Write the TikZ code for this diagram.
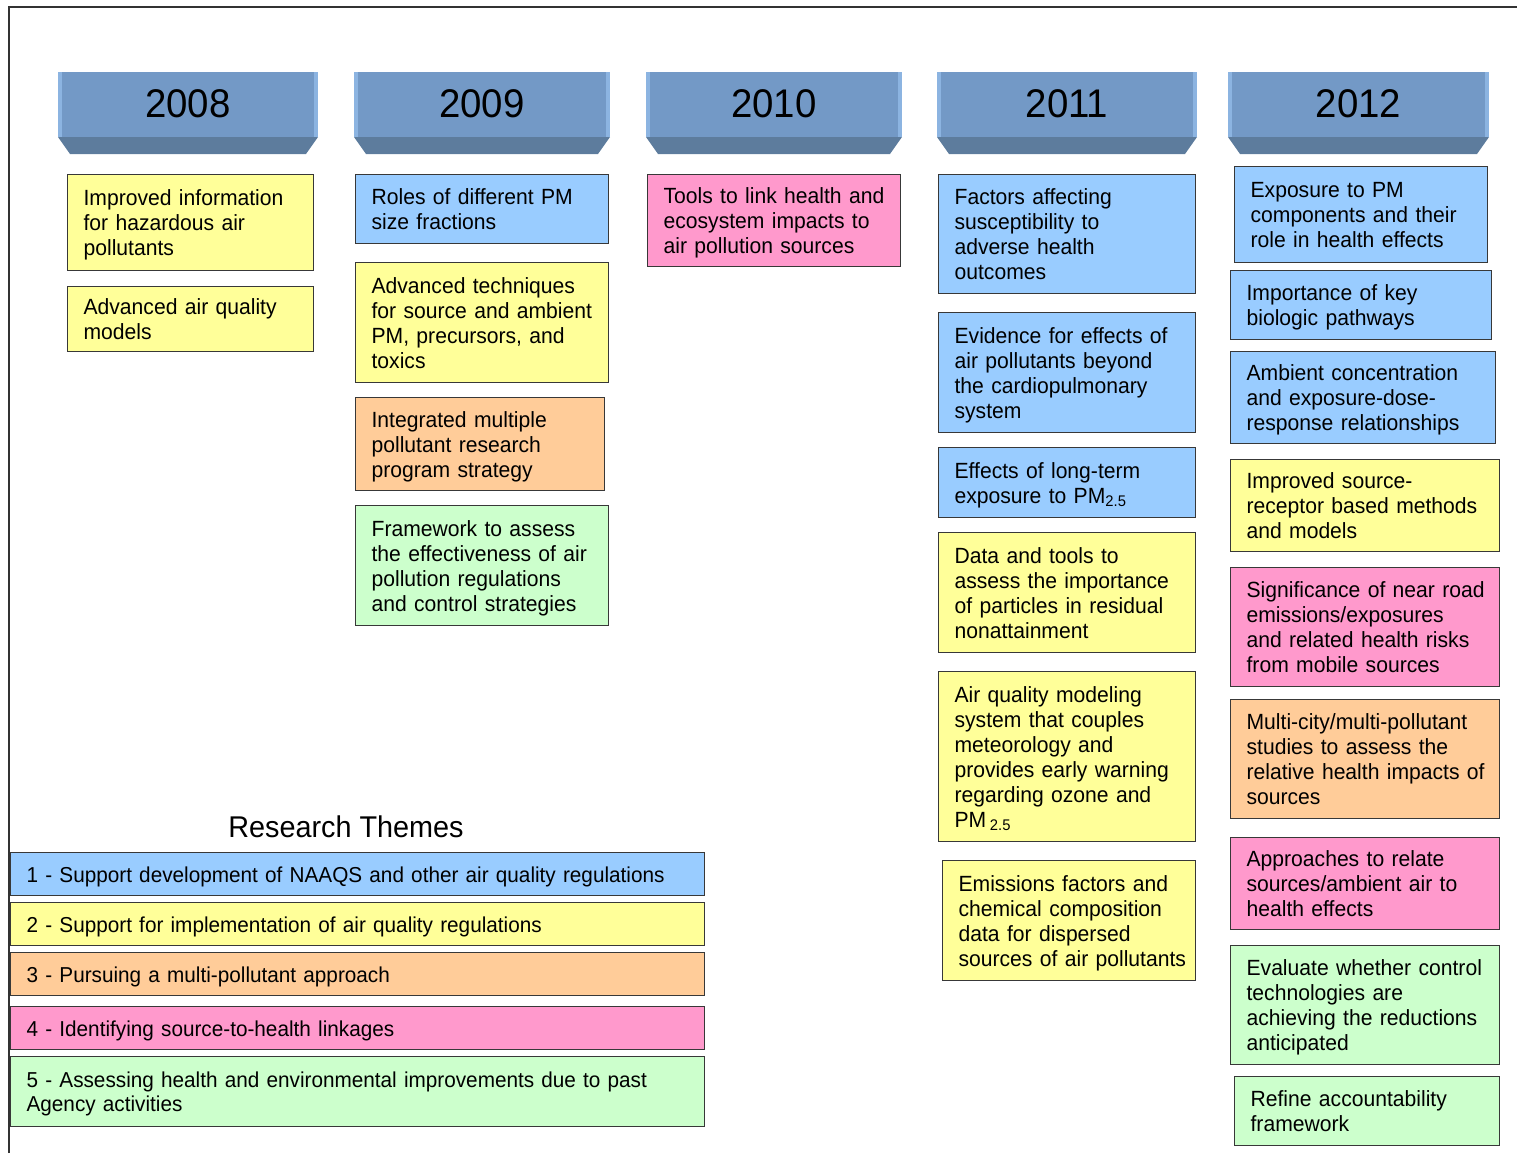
\documentclass[tikz,border=0pt]{standalone}
\usepackage{fontspec}
\setmainfont{Liberation Sans}[FakeStretch=0.96]
\usepackage{tikz}
\usetikzlibrary{calc}

\definecolor{tblue}{HTML}{99CCFF}
\definecolor{tyellow}{HTML}{FFFF99}
\definecolor{torange}{HTML}{FFCC99}
\definecolor{tpink}{HTML}{FF99CC}
\definecolor{tgreen}{HTML}{CCFFCC}
\definecolor{hdface}{HTML}{7399C6}
\definecolor{hdedge}{HTML}{8CB4E1}
\definecolor{hdfoot}{HTML}{5D7C9D}

\newcommand{\cardtext}[1]{\begin{tabular}{@{}l@{}}\rule{0pt}{11.9pt}#1\end{tabular}}

\tikzset{
  card/.style={draw=black!78, line width=0.6pt, anchor=north west, align=left,
    inner xsep=8pt, inner ysep=0pt, font=\fontsize{11}{12.5}\selectfont},
  theme1/.style={card, fill=tblue},
  theme2/.style={card, fill=tyellow},
  theme3/.style={card, fill=torange},
  theme4/.style={card, fill=tpink},
  theme5/.style={card, fill=tgreen},
  legend/.style={text width=331pt, font=\fontsize{10.8}{12}\selectfont},
  year/.style={anchor=base, font=\fontsize{20}{22}\selectfont},
}

\begin{document}
\begin{tikzpicture}[x=0.5pt, y=-0.5pt]
    \useasboundingbox (0,0) rectangle (1517,1153);
    \draw[black!80, line width=0.8pt] (9,1153) -- (9,7) -- (1517,7);
    % year headers
    \foreach \yr/\xl/\xr in {2008/58/318, 2009/354/610, 2010/646/902, 2011/937/1197, 2012/1228/1489} {
      \fill[hdface] (\xl,72) rectangle (\xr,137);
      \fill[hdedge] (\xl,72) rectangle ({\xl+4},137);
      \fill[hdedge] ({\xr-4},72) rectangle (\xr,137);
      \fill[hdfoot] (\xl,137) -- (\xr,137) -- ({\xr-12},154) -- ({\xl+12},154) -- cycle;
      \node[year] (y\yr) at ({(\xl+\xr)/2},117) {\yr};
    }
    % 2008
    \node[theme2, text width=107pt, minimum height=48pt] (a1) at (67,174) {\cardtext{Improved information\\for hazardous air\\pollutants}};
    \node[theme2, text width=107pt, minimum height=32.5pt] (a2) at (67,286) {\cardtext{Advanced air quality\\models}};
    % 2009
    \node[theme1, text width=110.5pt, minimum height=34.5pt] (b1) at (355,174) {\cardtext{Roles of different PM\\size fractions}};
    \node[theme2, text width=110.5pt, minimum height=60pt] (b2) at (355,262) {\cardtext{Advanced techniques\\for source and ambient\\PM, precursors, and\\toxics}};
    \node[theme3, text width=108.5pt, minimum height=46.5pt] (b3) at (355,397) {\cardtext{Integrated multiple\\pollutant research\\program strategy}};
    \node[theme5, text width=110.5pt, minimum height=60pt] (b4) at (355,505) {\cardtext{Framework to assess\\the effectiveness of air\\pollution regulations\\and control strategies}};
    % 2010
    \node[theme4, text width=110.5pt, minimum height=46pt] (c1) at (647,174) {\cardtext{Tools to link health and\\ecosystem impacts to\\air pollution sources}};
    % 2011
    \node[theme1, text width=112.5pt, minimum height=59.5pt] (d1) at (938,174) {\cardtext{Factors affecting\\susceptibility to\\adverse health\\outcomes}};
    \node[theme1, text width=112.5pt, minimum height=60pt] (d2) at (938,312) {\cardtext{Evidence for effects of\\air pollutants beyond\\the cardiopulmonary\\system}};
    \node[theme1, text width=112.5pt, minimum height=35pt] (d3) at (938,447) {\cardtext{Effects of long-term\\exposure to PM\textsubscript{2.5}}};
    \node[theme2, text width=112.5pt, minimum height=60pt] (d4) at (938,532) {\cardtext{Data and tools to\\assess the importance\\of particles in residual\\nonattainment}};
    \node[theme2, text width=112.5pt, minimum height=85pt] (d5) at (938,671) {\cardtext{Air quality modeling\\system that couples\\meteorology and\\provides early warning\\regarding ozone and\\PM\,\textsubscript{2.5}}};
    \node[theme2, text width=110.5pt, minimum height=60pt] (d6) at (942,860) {\cardtext{Emissions factors and\\chemical composition\\data for dispersed\\sources of air pollutants}};
    % 2012
    \node[theme1, text width=110.5pt, minimum height=48pt] (e1) at (1234,166) {\cardtext{Exposure to PM\\components and their\\role in health effects}};
    \node[theme1, text width=114.5pt, minimum height=34.5pt] (e2) at (1230,270) {\cardtext{Importance of key\\biologic pathways}};
    \node[theme1, text width=116.5pt, minimum height=46pt] (e3) at (1230,351) {\cardtext{Ambient concentration\\and exposure-dose-\\response relationships}};
    \node[theme2, text width=118.5pt, minimum height=46pt] (e4) at (1230,459) {\cardtext{Improved source-\\receptor based methods\\and models}};
    \node[theme4, text width=118.5pt, minimum height=59.5pt] (e5) at (1230,567) {\cardtext{Significance of near road\\emissions/exposures\\and related health risks\\from mobile sources}};
    \node[theme3, text width=118.5pt, minimum height=59.5pt] (e6) at (1230,699) {\cardtext{Multi-city/multi-pollutant\\studies to assess the\\relative health impacts of\\sources}};
    \node[theme4, text width=118.5pt, minimum height=46pt] (e7) at (1230,837) {\cardtext{Approaches to relate\\sources/ambient air to\\health effects}};
    \node[theme5, text width=118.5pt, minimum height=59.5pt] (e8) at (1230,945) {\cardtext{Evaluate whether control\\technologies are\\achieving the reductions\\anticipated}};
    \node[theme5, text width=116.5pt, minimum height=34.5pt] (e9) at (1234,1076) {\cardtext{Refine accountability\\framework}};
    % legend
    \node[anchor=base, font=\fontsize{15}{17}\selectfont] (title) at (346,837) {Research Themes};
    \node[theme1, legend, minimum height=21.5pt] (l1) at (10,852) {\cardtext{1 - Support development of NAAQS and other air quality regulations}};
    \node[theme2, legend, minimum height=21.5pt] (l2) at (10,902) {\cardtext{2 - Support for implementation of air quality regulations}};
    \node[theme3, legend, minimum height=21.5pt] (l3) at (10,952) {\cardtext{3 - Pursuing a multi-pollutant approach}};
    \node[theme4, legend, minimum height=21.5pt] (l4) at (10,1006) {\cardtext{4 - Identifying source-to-health linkages}};
    \node[theme5, legend, minimum height=35pt] (l5) at (10,1056) {\cardtext{5 - Assessing health and environmental improvements due to past\\Agency activities}};
\end{tikzpicture}
\end{document}
